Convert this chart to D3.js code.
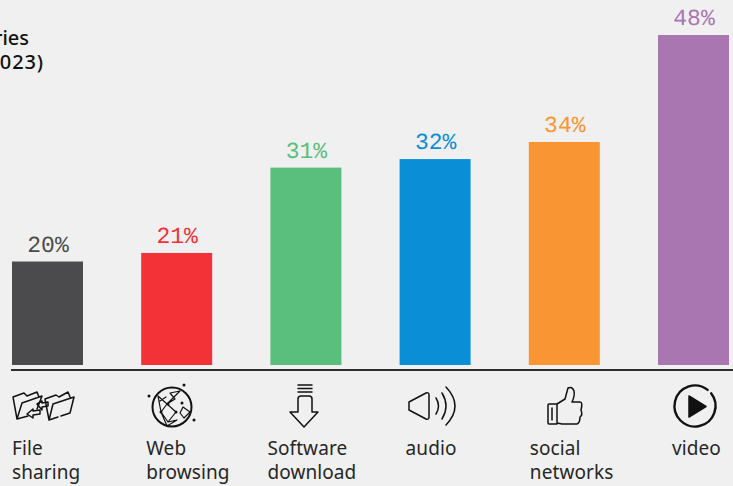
<!DOCTYPE html>
<html>
<head>
<meta charset="utf-8">
<script src="https://cdn.jsdelivr.net/npm/d3@7/dist/d3.min.js"></script>
<style>
  html, body { margin: 0; padding: 0; background: #f0f0f0; overflow: hidden; }
  svg { display: block; }
</style>
</head>
<body>
<svg id="chart" width="733" height="486"></svg>
<script>
// Service categories and their shares
const categories = ["File sharing", "Web browsing", "Software download", "audio", "social networks", "video"];
const shares = [20, 21, 31, 32, 34, 48];
const barColors = ["#4b4b4d", "#f23237", "#5abf7c", "#0a8ed6", "#f99633", "#a976b2"];
const titleLines = ["Categories", "(2023)"];

// Layout of the caption column under each bar
const captionOffsets = [0, 5, -3, 6, 1, 14];
const captionLines = [["File", "sharing"], ["Web", "browsing"], ["Software", "download"], ["audio"], ["social", "networks"], ["video"]];

const svg = d3.select("#chart");
const baseline = 365;

const x = d3.scaleBand().domain(categories).range([12, 729]).paddingInner(0.4505).paddingOuter(0);
const y = d3.scaleLinear().domain([20, 34, 48]).range([261.5, 142, 35]);

// Title, running off the left edge
svg.selectAll("text.title").data(titleLines).join("text")
  .attr("class", "title")
  .attr("x", (d, i) => i === 0 ? 29 : 44)
  .attr("y", (d, i) => 45 + i * 24)
  .attr("text-anchor", "end")
  .attr("font-family", "'Noto Sans'")
  .attr("font-size", 20)
  .attr("font-weight", 500)
  .attr("letter-spacing", (d, i) => i === 0 ? 0 : 0.9)
  .attr("fill", "#111")
  .text(d => d);

// Bars
svg.selectAll("rect.bar").data(categories).join("rect")
  .attr("class", "bar")
  .attr("x", d => x(d))
  .attr("width", x.bandwidth())
  .attr("y", (d, i) => y(shares[i]))
  .attr("height", (d, i) => baseline - y(shares[i]))
  .attr("fill", (d, i) => barColors[i]);

// Value labels
svg.selectAll("text.value").data(categories).join("text")
  .attr("class", "value")
  .attr("x", d => x(d) + x.bandwidth() / 2 + 0.5)
  .attr("y", (d, i) => y(shares[i]) - 10)
  .attr("text-anchor", "middle")
  .attr("font-family", "'Liberation Mono'")
  .attr("font-size", 23)
  .attr("text-rendering", "geometricPrecision")
  .attr("fill", (d, i) => barColors[i])
  .text((d, i) => shares[i] + "%");

// Axis rule
svg.append("line").attr("x1", 11).attr("x2", 733).attr("y1", 370).attr("y2", 370)
  .attr("stroke", "#2e2e2e").attr("stroke-width", 2);

// Captions
categories.forEach((c, i) => {
  captionLines[i].forEach((line, j) => {
    svg.append("text")
      .attr("x", x(c) + captionOffsets[i])
      .attr("y", 455 + j * 24)
      .attr("font-family", "'Noto Sans'")
      .attr("font-size", 19)
      .attr("letter-spacing", 0.1)
      .attr("fill", "#262626")
      .text(line);
  });
});

// Line icons, one group per category
const iconLayer = svg.append("g").attr("fill", "none").attr("stroke", "#111")
  .attr("stroke-width", 1.5).attr("stroke-linejoin", "round").attr("stroke-linecap", "round");

// Folder pair with arrows
const folders = iconLayer.append("g");
folders.append("path").attr("d", "M17 419 L13 397 L24 393 L27 396 L37 392 L39 397 M17 419 L22 403 L42 396 L37 409 M17 419 L28 416");
folders.append("path").attr("d", "M49 420 L45 399 L56 395 L59 397 L68 392 L70 397 M49 420 L53 404 L74 397 L70 413 L61 416 M49 420 L58 417");
folders.append("path").attr("d", "M37 404 L42 401 L42 403 L48 402 L48 406 L42 407 L42 410 Z");
folders.append("path").attr("d", "M27 414 L33 409 L33 411 L40 410 L40 414 L33 415 L33 418 Z");

// Globe with network nodes
const globe = iconLayer.append("g");
globe.append("circle").attr("cx", 172).attr("cy", 407).attr("r", 19.5).attr("stroke-width", 2);
globe.append("path").attr("stroke-width", 1.2)
  .attr("d", "M158 396 L167 404 L161 412 L158 396 M167 404 L180 391 L170 393 L175 399 Z M161 412 L168 422 L177 420 L167 426 Z M183 407 L190 412 L184 418 L180 413 Z M167 404 L176 412 M160 401 L166 397 M168 422 L176 412");
globe.selectAll("circle.node").data([[149, 396], [184, 385], [194, 420], [182, 403], [168, 404], [161, 412], [176, 412]]).join("circle")
  .attr("class", "node").attr("cx", d => d[0]).attr("cy", d => d[1]).attr("r", 1.5)
  .attr("fill", "#111").attr("stroke", "none");

// Download arrow
iconLayer.append("path").attr("d", "M298 385 H312 M298 388.5 H312 M298 392 H312 M298 412 V399 Q298 396 301 396 H309 Q312 396 312 399 V412 M298 412 H290 L304 427 L318 412 H312");

// Speaker with sound waves
iconLayer.append("path").attr("d", "M409 402 L426 393 Q429 392 429 395 V417 Q429 420 426 419 L409 410 Z");
iconLayer.append("path").attr("d", "M436 398 Q441 406 436 414 M442 393 Q450 406 442 419 M446 387 Q464 406 446 425");

// Thumbs up
iconLayer.append("path").attr("d", "M549 404 H557 V424 H549 Q548 424 548 423 V405 Q548 404 549 404 Z M557 404 L565 399 L568 388 Q572 386 574 391 Q575 396 572 402 H580 Q583 402 581 410 Q583 415 580 417 Q580 423 577 424 H562 L557 423 M552 408 V420");

// Play button: a ring with a small gap and a solid triangle
const ring = d3.path();
ring.arc(695, 406, 20.5, -Math.PI / 4 + 0.12, -Math.PI / 4 - 0.12 + 2 * Math.PI);
iconLayer.append("path").attr("d", ring.toString()).attr("stroke-width", 2.4);
iconLayer.append("path").attr("d", "M689 396 L706 406.5 L689 417 Z").attr("fill", "#111");
</script>
</body>
</html>
